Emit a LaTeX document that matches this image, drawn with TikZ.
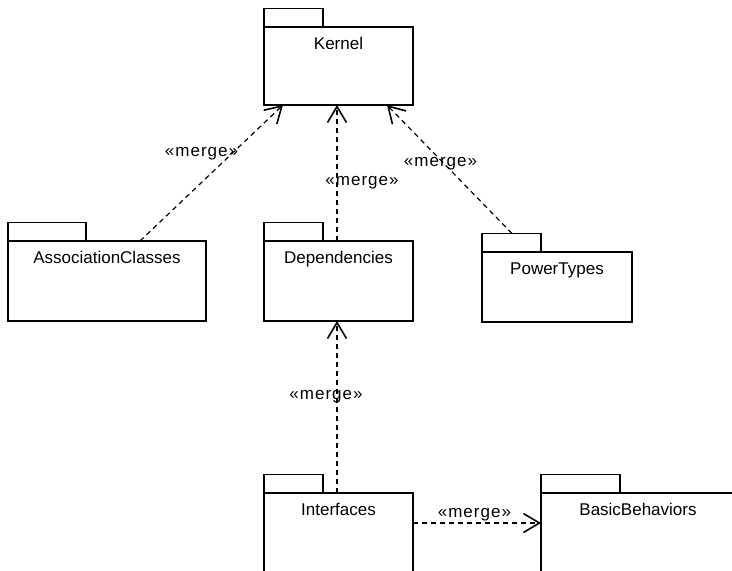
\documentclass[tikz,border=0pt]{standalone}
\usepackage{fontspec}
\setmainfont{Liberation Sans}
\newfontfamily\stereofont[LetterSpace=6]{Liberation Sans}
\usetikzlibrary{arrows.meta}
\tikzset{
  pkg/.style 2 args={draw, line width=1.3pt, anchor=north west, outer sep=0pt,
    minimum width=#1, text height=12pt, text depth=#2, inner ysep=10pt, inner xsep=0pt,
    font=\fontsize{17}{19}\selectfont},
  merge/.style={dash pattern=on 5pt off 4pt, line width=1.2pt,
    -{Straight Barb[length=16pt,width=19pt,line width=1.6pt]}},
  stereo/.style={font=\stereofont\fontsize{17}{19}\selectfont, inner sep=0pt}
}
\begin{document}
\begin{tikzpicture}[x=1pt,y=1pt]
\clip (0,0) rectangle (732,-571);

\node[pkg={149pt}{46pt}] (kernel) at (264,-27) {Kernel};
\node[pkg={198pt}{48pt}] (assoc) at (8,-241) {AssociationClasses};
\node[pkg={149pt}{48pt}] (deps) at (264,-241) {Dependencies};
\node[pkg={150pt}{38pt}] (power) at (482,-252) {PowerTypes};
\node[pkg={149pt}{68pt}] (ifaces) at (264,-493) {Interfaces};
\node[pkg={194pt}{68pt}] (basic) at (541,-493) {BasicBehaviors};

% tabs
\foreach \p/\w in {kernel/59,assoc/78,deps/59,power/59,ifaces/59,basic/79}
  \draw[line width=1.3pt] (\p.north west) rectangle ++(\w,18.5);

\draw[merge] ([xshift=132pt]assoc.north west) -- node[stereo,pos=.64,xshift=-30pt] (m1) {«merge»} ([xshift=19pt]kernel.south west);
\draw[merge] ([xshift=73pt]deps.north west) -- node[stereo,pos=.43,xshift=25pt] (m2) {«merge»} ([xshift=73pt]kernel.south west);
\draw[merge] ([shift={(30pt,18.5pt)}]power.north west) -- node[stereo,pos=.54,xshift=-4pt] (m3) {«merge»} ([xshift=123pt]kernel.south west);
\draw[merge] ([xshift=73pt]ifaces.north west) -- node[stereo,pos=.56,xshift=-11pt] (m4) {«merge»} ([xshift=73pt]deps.south west);
\draw[merge] ([yshift=-30pt]ifaces.north east) -- node[stereo,pos=.48,yshift=8pt] (m5) {«merge»} ([yshift=-30pt]basic.north west);

\end{tikzpicture}
\end{document}
